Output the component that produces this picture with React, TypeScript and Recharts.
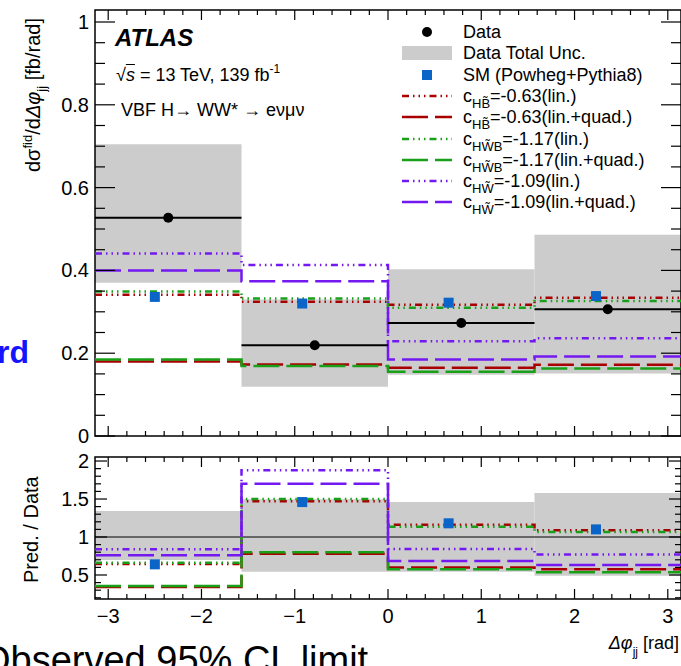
import { ComposedChart, Line, Scatter, XAxis, YAxis, ReferenceArea, ReferenceLine, ErrorBar } from 'recharts';

const PI = Math.PI;

// bins in delta phi_jj
const binEdges = [-PI, -PI / 2, 0, PI / 2, PI];
const smX = [-2.5, -0.92, 0.65, 2.23];

// top panel: dsigma/dphi [fb/rad]
const dataVal = [0.527, 0.219, 0.273, 0.306];
const dataUncLo = [0.37, 0.119, 0.148, 0.151];
const dataUncHi = [0.705, 0.33, 0.403, 0.486];
const smVal = [0.336, 0.32, 0.322, 0.338];
const hbLin = [0.341, 0.324, 0.317, 0.334];
const hbQuad = [0.18, 0.173, 0.165, 0.172];
const hwbLin = [0.349, 0.332, 0.31, 0.326];
const hwbQuad = [0.185, 0.169, 0.155, 0.163];
const hwLin = [0.441, 0.413, 0.229, 0.236];
const hwQuad = [0.4, 0.374, 0.185, 0.192];

// bottom panel: pred / data
const ratioUncLo = [0.697, 0.543, 0.543, 0.49];
const ratioUncHi = [1.342, 1.496, 1.46, 1.58];
const smRatio = [0.64, 1.46, 1.18, 1.1];
const hbLinR = [0.645, 1.47, 1.16, 1.09];
const hbQuadR = [0.342, 0.78, 0.6, 0.575];
const hwbLinR = [0.662, 1.5, 1.135, 1.066];
const hwbQuadR = [0.355, 0.8, 0.575, 0.535];
const hwLinR = [0.838, 1.88, 0.842, 0.77];
const hwQuadR = [0.759, 1.7, 0.684, 0.63];

// ticks
const xTicks = Array.from({ length: 31 }, (_, i) => Math.round((-3 + i * 0.2) * 10) / 10);
const topYTicks = Array.from({ length: 21 }, (_, i) => Math.round(i * 0.05 * 100) / 100);
const ratioYTicks = Array.from({ length: 19 }, (_, i) => Math.round((0.2 + i * 0.1) * 10) / 10);

const FONT = '"Liberation Sans", Arial, Helvetica, sans-serif';
const RED = '#a80000';
const GREEN = '#18a018';
const PURPLE = '#7418f2';
const BLUE = '#0b64c8';
const GRAY = '#cccccc';
const LIN_DASH = '7 4 1.5 4 1.5 4 1.5 4';
const QUAD_DASH = '26 7';

const models = [
  { key: 'hbLin', color: RED, dash: LIN_DASH, sub: 'HB\u0303', text: '=-0.63(lin.)' },
  { key: 'hbQuad', color: RED, dash: QUAD_DASH, sub: 'HB\u0303', text: '=-0.63(lin.+quad.)' },
  { key: 'hwbLin', color: GREEN, dash: LIN_DASH, sub: 'HW\u0303B', text: '=-1.17(lin.)' },
  { key: 'hwbQuad', color: GREEN, dash: QUAD_DASH, sub: 'HW\u0303B', text: '=-1.17(lin.+quad.)' },
  { key: 'hwLin', color: PURPLE, dash: LIN_DASH, sub: 'HW\u0303', text: '=-1.09(lin.)' },
  { key: 'hwQuad', color: PURPLE, dash: QUAD_DASH, sub: 'HW\u0303', text: '=-1.09(lin.+quad.)' },
];

const stepRows = (sets: Record<string, number[]>) =>
  binEdges.map((x, i) => {
    const row: Record<string, number> = { x };
    const k = Math.min(i, 3);
    Object.keys(sets).forEach((key) => (row[key] = sets[key][k]));
    return row;
  });

const topRows = stepRows({ hbLin, hbQuad, hwbLin, hwbQuad, hwLin, hwQuad });
const ratioRows = stepRows({
  hbLin: hbLinR, hbQuad: hbQuadR, hwbLin: hwbLinR, hwbQuad: hwbQuadR, hwLin: hwLinR, hwQuad: hwQuadR,
});

const center = (i: number) => (binEdges[i] + binEdges[i + 1]) / 2;
const dataPts = dataVal.map((y, i) => ({ x: center(i), y, xerr: PI / 4 }));
const smPts = smVal.map((y, i) => ({ x: smX[i], y }));
const smRatioPts = smRatio.map((y, i) => ({ x: smX[i], y }));

const CHART_W = 700;
const PLOT_W = 586;
const TOP_DOMAIN: [number, number] = [0, 1.029];
const RATIO_DOMAIN: [number, number] = [0.184, 2.053];

const isMultiple = (v: number, step: number) => Math.abs(v / step - Math.round(v / step)) < 1e-6;
const fmt = (v: number) => (v < 0 ? '\u2212' + Math.abs(v) : String(v));

const makeXTick = (plotH: number, majorLen: number, minorLen: number, labels: boolean) => (props: any) => {
  const { x, y, payload } = props;
  const v = payload.value;
  const major = isMultiple(v, 1);
  const len = major ? majorLen : minorLen;
  return (
    <g>
      <line x1={x} y1={y} x2={x} y2={y - len} stroke="#000" strokeWidth={1.2} />
      <line x1={x} y1={y - plotH} x2={x} y2={y - plotH + len} stroke="#000" strokeWidth={1.2} />
      {labels && major && (
        <text x={x} y={y + 17} textAnchor="middle" dominantBaseline="central" fontFamily={FONT} fontSize={20} fill="#000">
          {fmt(v)}
        </text>
      )}
    </g>
  );
};

const makeYTick = (step: number, majorLen: number, minorLen: number) => (props: any) => {
  const { x, y, payload } = props;
  const v = payload.value;
  const major = isMultiple(v, step);
  const len = major ? majorLen : minorLen;
  return (
    <g>
      <line x1={x} y1={y} x2={x + len} y2={y} stroke="#000" strokeWidth={1.2} />
      <line x1={x + PLOT_W} y1={y} x2={x + PLOT_W - len} y2={y} stroke="#000" strokeWidth={1.2} />
      {major && (
        <text x={x - 6} y={y} textAnchor="end" dominantBaseline="central" fontFamily={FONT} fontSize={20} fill="#000">
          {fmt(v)}
        </text>
      )}
    </g>
  );
};

const modelLines = () =>
  models.map((m) => (
    <Line
      key={m.key}
      dataKey={m.key}
      type="stepAfter"
      stroke={m.color}
      strokeWidth={2.5}
      strokeDasharray={m.dash}
      dot={false}
      activeDot={false}
      isAnimationActive={false}
    />
  ));

const square = (p: any) => <rect x={p.cx - 5} y={p.cy - 5} width={10} height={10} fill={BLUE} />;
const dot = (p: any) => <circle cx={p.cx} cy={p.cy} r={5} fill="#000" />;

const LineSample = ({ color, dash }: { color: string; dash: string }) => (
  <svg width={50} height={22}>
    <line x1={0} y1={11} x2={50} y2={11} stroke={color} strokeWidth={2.5} strokeDasharray={dash} />
  </svg>
);

const Legend = () => {
  const rowTop = (i: number) => 32 + i * 21.3 - 11;
  const textStyle = { position: 'absolute' as const, left: 61, top: 0, lineHeight: '22px', fontSize: 18, whiteSpace: 'nowrap' as const };
  return (
    <div style={{ position: 'absolute', left: 402, top: 0, fontFamily: FONT }}>
      <div style={{ position: 'absolute', top: rowTop(0), height: 22 }}>
        <svg width={50} height={22}><circle cx={25} cy={11} r={5} fill="#000" /></svg>
        <div style={textStyle}>Data</div>
      </div>
      <div style={{ position: 'absolute', top: rowTop(1), height: 22 }}>
        <svg width={50} height={22}><rect x={0} y={4} width={50} height={14} fill={GRAY} /></svg>
        <div style={textStyle}>Data Total Unc.</div>
      </div>
      <div style={{ position: 'absolute', top: rowTop(2), height: 22 }}>
        <svg width={50} height={22}><rect x={20} y={6} width={10} height={10} fill={BLUE} /></svg>
        <div style={textStyle}>SM (Powheg+Pythia8)</div>
      </div>
      {models.map((m, i) => (
        <div key={m.key} style={{ position: 'absolute', top: rowTop(i + 3), height: 22 }}>
          <LineSample color={m.color} dash={m.dash} />
          <div style={textStyle}>
            c<span style={{ fontSize: 13, position: 'relative', top: 6 }}>{m.sub}</span>
            {m.text}
          </div>
        </div>
      ))}
    </div>
  );
};

const App = () => {
  return (
    <div style={{ position: 'absolute', left: 0, top: 0, width: 681, height: 666, overflow: 'hidden', background: '#fff', fontFamily: FONT, color: '#000' }}>
      <div style={{ position: 'absolute', left: 0, top: 0 }}>
        <ComposedChart width={CHART_W} height={450} data={topRows} margin={{ top: 10, right: CHART_W - 95 - PLOT_W, bottom: 13, left: 94 }}>
          <XAxis
            dataKey="x"
            type="number"
            domain={[-PI, PI]}
            allowDataOverflow
            ticks={xTicks}
            interval={0}
            height={1}
            tickSize={0}
            tickMargin={0}
            tickLine={false}
            axisLine={false}
            tick={makeXTick(426, 10, 5, false)}
          />
          <YAxis
            type="number"
            domain={TOP_DOMAIN}
            allowDataOverflow
            ticks={topYTicks}
            interval={0}
            width={1}
            tickSize={0}
            tickMargin={0}
            tickLine={false}
            axisLine={false}
            tick={makeYTick(0.2, 20, 10)}
          />
          {dataUncLo.map((lo, i) => (
            <ReferenceArea key={'u' + i} x1={binEdges[i]} x2={binEdges[i + 1]} y1={lo} y2={dataUncHi[i]} fill={GRAY} fillOpacity={1} stroke="none" />
          ))}
          {modelLines()}
          <Scatter data={smPts} dataKey="y" shape={square} isAnimationActive={false} />
          <Scatter data={dataPts} dataKey="y" shape={dot} isAnimationActive={false}>
            <ErrorBar dataKey="xerr" direction="x" width={0} stroke="#000" strokeWidth={2} />
          </Scatter>
          <ReferenceArea x1={-PI} x2={PI} y1={TOP_DOMAIN[0]} y2={TOP_DOMAIN[1]} fill="none" stroke="#000" strokeWidth={1.5} />
        </ComposedChart>
      </div>

      <div style={{ position: 'absolute', left: 0, top: 447 }}>
        <ComposedChart width={CHART_W} height={190} data={ratioRows} margin={{ top: 10, right: CHART_W - 95 - PLOT_W, bottom: 37, left: 94 }}>
          <XAxis
            dataKey="x"
            type="number"
            domain={[-PI, PI]}
            allowDataOverflow
            ticks={xTicks}
            interval={0}
            height={1}
            tickSize={0}
            tickMargin={0}
            tickLine={false}
            axisLine={false}
            tick={makeXTick(142, 10, 5, true)}
          />
          <YAxis
            type="number"
            domain={RATIO_DOMAIN}
            allowDataOverflow
            ticks={ratioYTicks}
            interval={0}
            width={1}
            tickSize={0}
            tickMargin={0}
            tickLine={false}
            axisLine={false}
            tick={makeYTick(0.5, 12, 6)}
          />
          {ratioUncLo.map((lo, i) => (
            <ReferenceArea key={'r' + i} x1={binEdges[i]} x2={binEdges[i + 1]} y1={lo} y2={ratioUncHi[i]} fill={GRAY} fillOpacity={1} stroke="none" />
          ))}
          <ReferenceLine y={1} stroke="#000" strokeWidth={1.2} />
          {modelLines()}
          <Scatter data={smRatioPts} dataKey="y" shape={square} isAnimationActive={false} />
          <ReferenceArea x1={-PI} x2={PI} y1={RATIO_DOMAIN[0]} y2={RATIO_DOMAIN[1]} fill="none" stroke="#000" strokeWidth={1.5} />
        </ComposedChart>
      </div>

      {/* labels */}
      <div style={{ position: 'absolute', left: 115, top: 25, fontSize: 24, fontWeight: 'bold', fontStyle: 'italic', lineHeight: '26px' }}>ATLAS</div>
      <div style={{ position: 'absolute', left: 116, top: 64, fontSize: 18, lineHeight: '22px', whiteSpace: 'nowrap' }}>
        √<span style={{ textDecoration: 'overline', fontStyle: 'italic' }}>s</span> = 13 TeV, 139 fb
        <span style={{ fontSize: 12, position: 'relative', top: -8 }}>-1</span>
      </div>
      <div style={{ position: 'absolute', left: 121, top: 99, fontSize: 18, lineHeight: '22px', whiteSpace: 'nowrap' }}>
        VBF H→ WW* → eνμν
      </div>
      <Legend />

      <div style={{ position: 'absolute', left: 23, top: 172, transform: 'rotate(-90deg)', transformOrigin: 'left top', whiteSpace: 'nowrap', fontSize: 20, lineHeight: '20px' }}>
        dσ<span style={{ fontSize: 13, position: 'relative', top: -8 }}>fid</span>/d<i>Δφ</i>
        <span style={{ fontSize: 13, position: 'relative', top: 6 }}>jj</span> [fb/rad]
      </div>
      <div style={{ position: 'absolute', left: 21, top: 583, transform: 'rotate(-90deg)', transformOrigin: 'left top', whiteSpace: 'nowrap', fontSize: 20, lineHeight: '20px' }}>
        Pred. / Data
      </div>
      <div style={{ position: 'absolute', right: 2, top: 632, fontSize: 18, lineHeight: '22px', whiteSpace: 'nowrap' }}>
        <i>Δφ</i>
        <span style={{ fontSize: 12, position: 'relative', top: 7 }}>jj</span> [rad]
      </div>
      <div style={{ position: 'absolute', left: -19, top: 641, fontSize: 38, lineHeight: '38px', whiteSpace: 'nowrap' }}>
        Observed 95% CL limit
      </div>
      <div style={{ position: 'absolute', left: -3, top: 336, fontSize: 32, fontWeight: 'bold', lineHeight: '32px', color: '#1414ff' }}>rd</div>
    </div>
  );
};

export default App;
